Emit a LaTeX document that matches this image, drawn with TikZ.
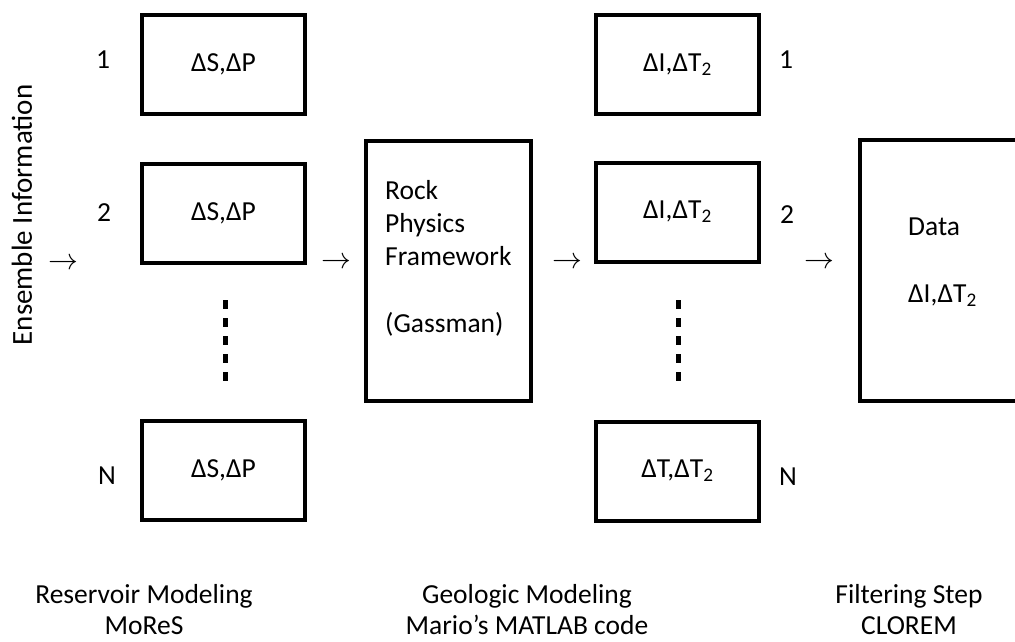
\documentclass[tikz,border=0pt]{standalone}
\usepackage{fontspec}
\setmainfont{Carlito}
\begin{document}
\begin{tikzpicture}[x=1pt,y=-1pt,
  txt/.style={font=\fontsize{27.5}{33}\selectfont, inner sep=0pt},
  box/.style={draw, line width=4pt, txt, minimum width=163pt, minimum height=99pt},
  tall/.style={draw, line width=4pt, minimum width=165pt, minimum height=260pt},
  dots/.style={line width=5pt, dash pattern=on 9pt off 9pt},
  arr/.style={font=\fontsize{24}{24}\selectfont, inner sep=0pt},
  captxt/.style={txt, align=center, font=\fontsize{27.5}{31}\selectfont}]
\useasboundingbox (0,0) rectangle (1015,641);
\clip (0,0) rectangle (1015,641);

% left column
\node[box] (L1) at (223.5,64.5) {ΔS,ΔP};
\node[box] (L2) at (223.5,213) {ΔS,ΔP};
\node[box] (LN) at (223.5,470.5) {ΔS,ΔP};
\node[txt] (l1) at (103,60) {1};
\node[txt] (l2) at (104,213) {2};
\node[txt] (lN) at (107,476) {N};
\draw[dots] (225,300) -- (225,386);

% ensemble label
\node[txt, rotate=90, font=\fontsize{29}{33}\selectfont] (ens) at (22,215) {Ensemble Information};

% rock physics
\node[tall] (rock) at (448.5,271) {};
\node[txt, align=left, anchor=north west] (rocktxt) at (385,180)
  {Rock\\Physics\\Framework\\[34pt](Gassman)};

% right column
\node[box] (R1) at (677.5,64.5) {ΔI,ΔT\textsubscript{2}};
\node[box] (R2) at (677.5,212) {ΔI,ΔT\textsubscript{2}};
\node[box] (RN) at (677.5,471) {ΔT,ΔT\textsubscript{2}};
\node[txt] (r1) at (786,60) {1};
\node[txt] (r2) at (787,215) {2};
\node[txt] (rN) at (788,477) {N};
\draw[dots] (678,300) -- (678,386);

% data box
\node[draw, line width=4pt, minimum width=180pt, minimum height=261pt] (data) at (950,270.5) {};
\node[txt, align=left, anchor=north west] (datatxt) at (908,218)
  {Data\\[34pt]ΔI,ΔT\textsubscript{2}};

% arrows
\node[arr] (a1) at (63,264) {\scalebox{1.2}{$\rightarrow$}};
\node[arr] (a2) at (336,263) {\scalebox{1.2}{$\rightarrow$}};
\node[arr] (a3) at (567,263) {\scalebox{1.2}{$\rightarrow$}};
\node[arr] (a4) at (819,263) {\scalebox{1.2}{$\rightarrow$}};

% captions
\node[captxt] (c1) at (144,610) {Reservoir Modeling\\MoReS};
\node[captxt] (c2) at (527,610) {Geologic Modeling\\Mario’s MATLAB code};
\node[captxt] (c3) at (909,610) {Filtering Step\\CLOREM};
\end{tikzpicture}
\end{document}
